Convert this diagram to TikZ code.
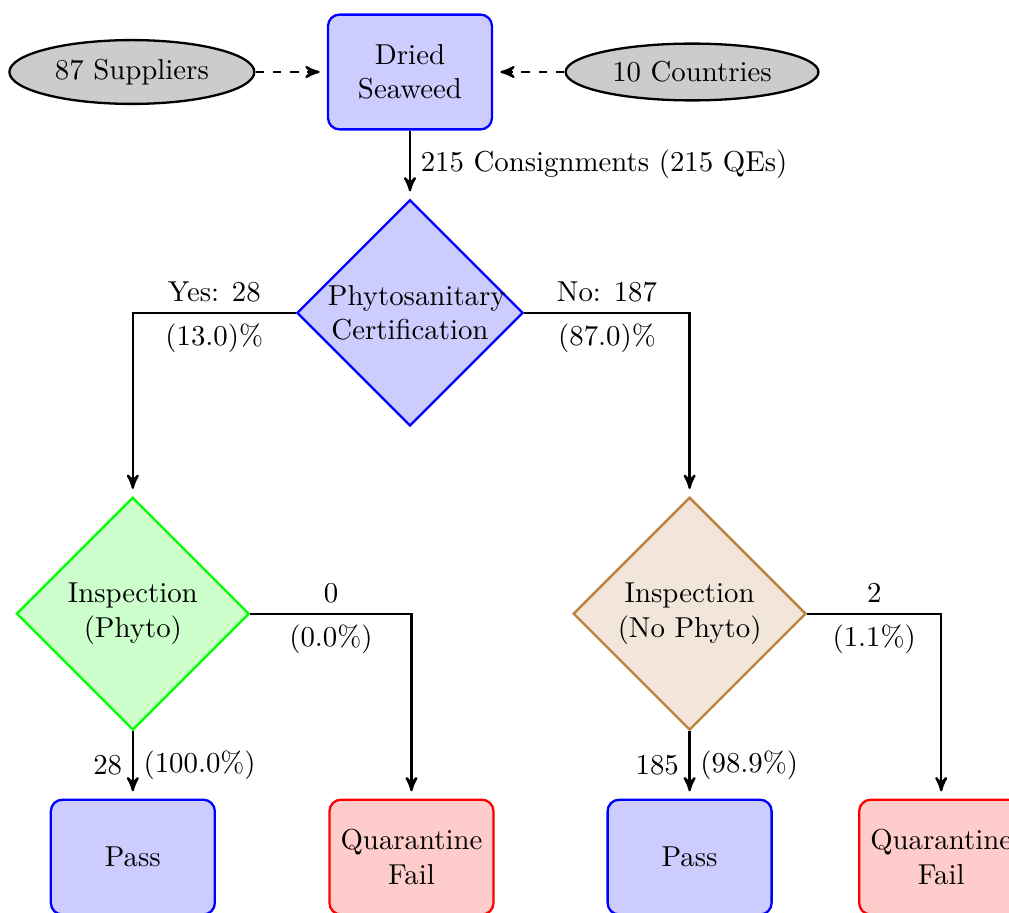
\documentclass[tikz,border=0pt]{standalone}
\usepackage{tikz}
\usetikzlibrary{arrows,positioning,shapes.geometric}

\begin{document}
\begin{tikzpicture}[
    auto,
    >=stealth',
    procbox/.style={rectangle, rounded corners, draw=blue, fill=blue!20, thick,
        minimum width=2cm, minimum height=1.4cm, text width=1.75cm, align=center},
    failbox/.style={procbox, draw=red, fill=red!20},
    decision/.style={diamond, draw=blue, fill=blue!20, thick, inner sep=0,
        text width=2cm, align=center, minimum size=2.76cm},
    inspect/.style={decision, minimum size=2.84cm},
    source/.style={ellipse, draw=black, fill=gray!40, thick},
    flow/.style={->, thick, shorten >=2.5pt},
    feed/.style={flow, dashed}]

\useasboundingbox (-5,0.878) rectangle (7.305,-10.244);
\clip (-5,0.878) rectangle (7.305,-10.244);

% top row
\node[procbox] (dried) at (0,0) {Dried Seaweed};
\node[source, left=0.87cm of dried] (suppliers) {87 Suppliers};
\node[source, right=0.87cm of dried] (countries) {10 Countries};

% certification
\node[decision, below=0.83cm of dried] (phyto) {Phytosanitary Certification};

% inspections
\node[inspect, draw=green, fill=green!20, below=0.84cm of phyto, xshift=-3.38cm] (inspP) {Inspection (Phyto)};
\node[inspect, draw=brown, fill=brown!20, below=0.84cm of phyto, xshift=3.41cm] (inspN) {Inspection (No Phyto)};

% outcomes
\node[procbox, below=0.82cm of inspP] (passP) {Pass};
\node[failbox, right=1.37cm of passP] (failP) {Quarantine Fail};
\node[procbox, below=0.82cm of inspN] (passN) {Pass};
\node[failbox, right=1.04cm of passN] (failN) {Quarantine Fail};

\draw[feed] (suppliers) -- (dried);
\draw[feed] (countries) -- (dried);
\draw[flow] (dried) -- node[right] {215 Consignments (215 QEs)} (phyto);

\draw[flow] (phyto.west) -| node[pos=0.25, above] {Yes: 28} node[pos=0.25, below] {(13.0)\%} (inspP);
\draw[flow] (phyto.east) -| node[pos=0.25, above] {No: 187} node[pos=0.25, below] {(87.0)\%} (inspN);

\draw[flow] (inspP) -- node[left] {28} node[right] {(100.0\%)} (passP);
\draw[flow] (inspP.east) -| node[pos=0.25, above] {0} node[pos=0.25, below] {(0.0\%)} (failP);
\draw[flow] (inspN) -- node[left] {185} node[right] {(98.9\%)} (passN);
\draw[flow] (inspN.east) -| node[pos=0.25, above] {2} node[pos=0.25, below] {(1.1\%)} (failN);

\end{tikzpicture}
\end{document}
